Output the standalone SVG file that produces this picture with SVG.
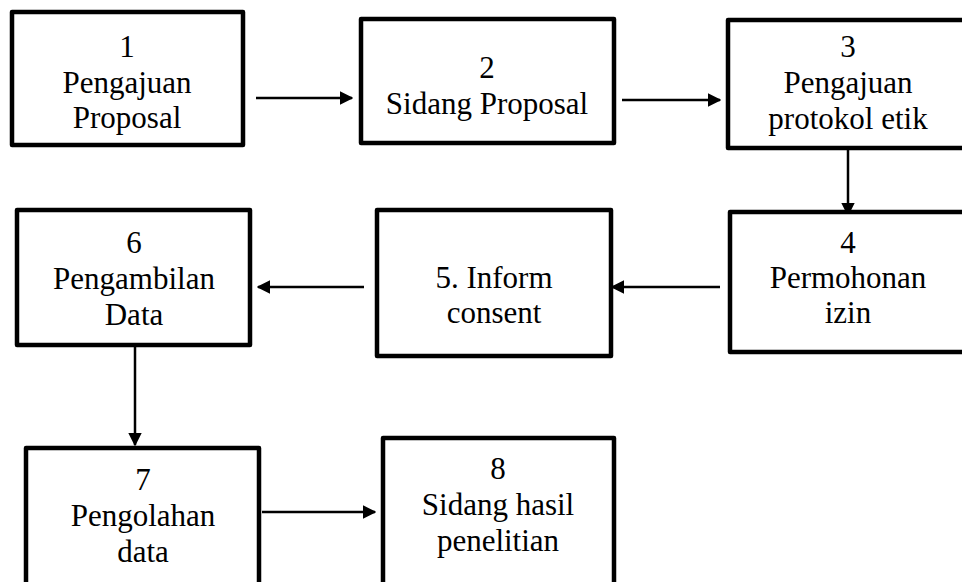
<svg xmlns="http://www.w3.org/2000/svg" width="962" height="582" viewBox="0 0 962 582">
<style>
.box{fill:#fff;stroke:#000;stroke-width:4.5;stroke-linejoin:round}
.t{font-family:"Liberation Serif","Times New Roman",serif;font-size:31px;fill:#000;text-anchor:middle}
.c{stroke:#000;stroke-width:2.5;fill:none;marker-end:url(#ah)}
</style>
<defs>
<marker id="ah" viewBox="0 0 10 10" refX="9" refY="5" markerWidth="5.5" markerHeight="5.5" orient="auto" markerUnits="strokeWidth">
<path d="M0,0 L10,5 L0,10 z" fill="#000"/>
</marker>
</defs>
<rect width="962" height="582" fill="#fff"/>
<g id="connectors">
<line class="c" x1="256" y1="98" x2="352" y2="98"/>
<line class="c" x1="622" y1="100" x2="720" y2="100"/>
<line class="c" x1="848" y1="150" x2="848" y2="215"/>
<line class="c" x1="720" y1="287" x2="612" y2="287"/>
<line class="c" x1="364" y1="287" x2="258" y2="287"/>
<line class="c" x1="135" y1="346" x2="135" y2="445"/>
<line class="c" x1="262" y1="512" x2="375" y2="512"/>
</g>
<g id="n1"><rect class="box" x="12" y="12" width="231" height="133"/>
<text class="t" x="127" y="57">1</text><text class="t" x="127" y="93">Pengajuan</text><text class="t" x="127" y="128">Proposal</text></g>
<g id="n2"><rect class="box" x="361" y="19" width="253" height="124"/>
<text class="t" x="487" y="78">2</text><text class="t" x="487" y="114">Sidang Proposal</text></g>
<g id="n3"><rect class="box" x="728" y="20" width="240" height="128"/>
<text class="t" x="848" y="57">3</text><text class="t" x="848" y="93">Pengajuan</text><text class="t" x="848" y="129">protokol etik</text></g>
<g id="n4"><rect class="box" x="730" y="212" width="238" height="140"/>
<text class="t" x="848" y="253">4</text><text class="t" x="848" y="288">Permohonan</text><text class="t" x="848" y="323">izin</text></g>
<g id="n5"><rect class="box" x="377" y="210" width="234" height="146"/>
<text class="t" x="494" y="288">5. Inform</text><text class="t" x="494" y="323">consent</text></g>
<g id="n6"><rect class="box" x="17" y="210" width="233" height="135"/>
<text class="t" x="134" y="253">6</text><text class="t" x="134" y="289">Pengambilan</text><text class="t" x="134" y="325">Data</text></g>
<g id="n7"><rect class="box" x="26" y="448" width="233" height="145"/>
<text class="t" x="143" y="490">7</text><text class="t" x="143" y="526">Pengolahan</text><text class="t" x="143" y="562">data</text></g>
<g id="n8"><rect class="box" x="383" y="438" width="231" height="155"/>
<text class="t" x="498" y="479">8</text><text class="t" x="498" y="515">Sidang hasil</text><text class="t" x="498" y="551">penelitian</text></g>
</svg>
